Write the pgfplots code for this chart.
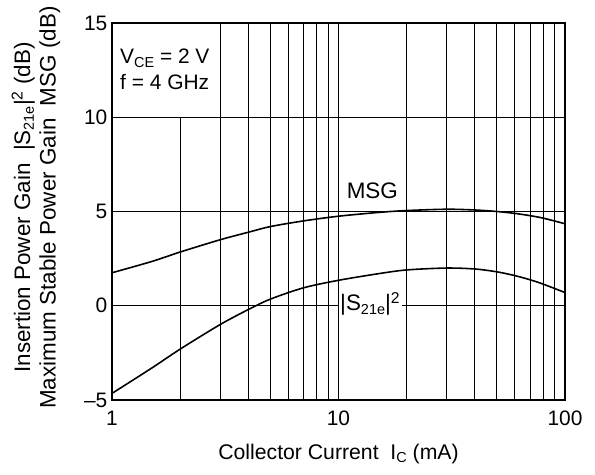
\documentclass[border=0pt]{standalone}
\usepackage{fontspec}
\setmainfont{Liberation Sans}
\usepackage{pgfplots}
\pgfplotsset{compat=1.18}
\newcommand\sub[1]{\raisebox{-0.3ex}{\fontsize{14.5}{15}\selectfont #1}}
\newcommand\fs{\fontsize{22.5}{25.5}\selectfont}
\newcommand\ft{\fontsize{21}{24}\selectfont}

\begin{document}
\begin{tikzpicture}
\begin{axis}[
  scale only axis, width=453bp, height=377bp,
  xmode=log, xmin=1, xmax=100, ymin=-5, ymax=15,
  xtick={1,10,100}, xticklabels={1,10,100},
  minor xtick={2,3,...,9,20,30,...,90},
  ytick={-5,0,5,10,15}, yticklabels={\textendash5,0,5,10,15},
  grid=both,
  major grid style={black, line width=0.75pt},
  minor grid style={black, line width=0.75pt},
  tick style={draw=none},
  axis line style={line width=1.7pt},
  ticklabel style={font=\ft, inner sep=0.5pt},
  xticklabel style={yshift=-10bp},
  yticklabel style={xshift=-4bp},
  label style={font=\fs},
  xlabel={Collector Current\ \ I\sub{C} (mA)},
  xlabel style={font=\fontsize{21.3}{24}\selectfont, at={([yshift=-54bp]axis description cs:0.5,0)}, anchor=center},
  ylabel={Insertion Power Gain\ \ |S\sub{21e}|\textsuperscript{2} (dB)\\Maximum Stable Power Gain\ \ MSG (dB)},
  ylabel style={align=center, at={([xshift=-76bp,yshift=4bp]axis description cs:0,0.5)}, anchor=center},
]
\fill[white] ([xshift=1.3pt,yshift=-1.3pt]axis cs:1,15) rectangle ([yshift=0.5pt]axis cs:2.93,10);
\node[anchor=base west, font=\ft, inner sep=0pt] at ([xshift=8bp,yshift=-41bp]axis cs:1,15) {V\sub{CE} = 2 V};
\node[anchor=base west, font=\ft, inner sep=0pt] at ([xshift=8bp,yshift=-67bp]axis cs:1,15) {f = 4 GHz};

% MSG
\addplot[black, line width=1.6pt, smooth] coordinates {
  (1,1.75) (1.5,2.35) (2,2.85) (3,3.5) (4,3.9) (5,4.2) (7,4.5) (10,4.75)
  (15,4.95) (20,5.05) (30,5.12) (40,5.08) (50,5.0) (60,4.9) (70,4.78) (80,4.65) (100,4.35)};
% |S21e|^2
\addplot[black, line width=1.6pt, smooth] coordinates {
  (1,-4.65) (1.5,-3.3) (2,-2.3) (3,-1.0) (4,-0.2) (5,0.35) (7,0.95) (10,1.35)
  (15,1.7) (20,1.9) (30,2.0) (40,1.95) (50,1.8) (60,1.6) (70,1.38) (80,1.15) (100,0.7)};

\node[font=\fs, fill=white, inner sep=1.5pt] at (axis cs:14.1,6.1) {MSG};
\node[font=\fs, fill=white, inner sep=1.5pt] at (axis cs:13.8,0.1) {|S\sub{21e}|\textsuperscript{2}};
\end{axis}
\pgfresetboundingbox
\path (-112bp,-75bp) rectangle (483bp,400bp);
\end{tikzpicture}
\end{document}
